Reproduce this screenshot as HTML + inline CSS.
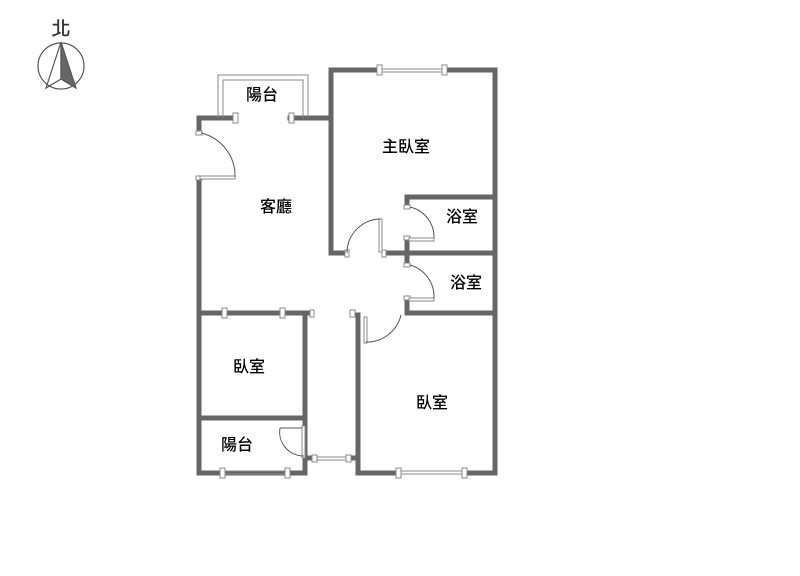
<!DOCTYPE html>
<html><head><meta charset="utf-8"><style>
html,body{margin:0;padding:0;background:#fff;width:800px;height:576px;overflow:hidden}
text{font-family:"Liberation Sans","Noto Sans CJK TC",sans-serif;font-size:16px;fill:#000;font-weight:500}
</style></head><body>
<svg width="800" height="576" viewBox="0 0 800 576" xmlns="http://www.w3.org/2000/svg">
<text x="61" y="35" text-anchor="middle" style="font-size:19px;fill:#333">北</text>
<circle cx="61" cy="66" r="23" fill="none" stroke="#555" stroke-width="1.2"/>
<polygon points="61,42 46,88 61,79" fill="none" stroke="#555" stroke-width="1.2"/>
<polygon points="61,42 76,88 61,79" fill="#666" stroke="#555" stroke-width="1.2"/>
<g stroke="#666" stroke-width="5" fill="none" stroke-linecap="square">
<path d="M199,131 V118 H233"/>
<path d="M199,180 V473 H305 V313 H310"/>
<path d="M290,118 H331 V70 H380"/>
<path d="M445,70 H495 V473 H465"/>
<path d="M398,473 H358 V315"/>
<path d="M199,313 H222"/><path d="M229,313 H280"/><path d="M286,313 H305"/>
<path d="M199,418 H305"/>
<path d="M331,70 V253 H345"/>
<path d="M386,253 H495"/>
<path d="M407,205 V197 H495"/>
<path d="M407,240 V263"/>
<path d="M407,300 V313 H495"/>
<path d="M305,458 H312"/><path d="M350,458 H357"/>
</g>
<g stroke="#888" stroke-width="1" fill="#fff">
<path d="M218,118 V75 H308 V118" fill="none" stroke-width="1"/>
<path d="M223,118 V80 H303 V118" fill="none"/>
<path d="M380,69 H445 M380,72 H445" fill="none"/>
<path d="M222,471 H289 M222,474 H289" fill="none"/>
<path d="M398,471 H465 M398,474 H465" fill="none"/>
<path d="M312,457 H350 M312,460 H350" fill="none"/>
<rect x="377" y="65" width="5" height="10"/><rect x="442" y="65" width="5" height="10"/>
<rect x="233" y="113" width="5" height="10"/><rect x="289" y="113" width="5" height="10"/>
<rect x="220" y="468" width="5" height="10"/><rect x="285" y="468" width="5" height="10"/>
<rect x="396" y="468" width="5" height="10"/><rect x="462" y="468" width="5" height="10"/>
<rect x="222" y="308" width="5" height="10"/><rect x="280" y="308" width="5" height="10"/>
<rect x="310" y="310" width="4" height="7"/><rect x="350" y="310" width="5" height="7"/>
<rect x="312" y="455" width="5" height="7"/><rect x="346" y="455" width="5" height="7"/>
<rect x="196" y="131" width="6" height="4"/><rect x="196" y="176" width="6" height="4"/>
<rect x="345" y="250" width="4" height="7"/><rect x="382" y="250" width="4" height="7"/>
<rect x="404" y="205" width="6" height="4"/><rect x="404" y="236" width="6" height="4"/>
<rect x="404" y="263" width="6" height="4"/><rect x="404" y="296" width="6" height="4"/>
<rect x="200" y="176" width="35" height="3"/>
<rect x="379" y="219" width="3" height="33"/>
<rect x="409" y="238" width="25" height="3"/>
<rect x="409" y="298" width="25" height="3"/>
<rect x="364" y="317" width="3" height="26"/>
<rect x="302" y="426" width="3" height="32"/>
</g>
<g stroke="#555" stroke-width="1" fill="none">
<path d="M201,133 A44,44 0 0 1 235,177"/>
<path d="M347,253 A34,34 0 0 1 381,219"/>
<path d="M410,207 A31,31 0 0 1 434,238"/>
<path d="M410,265 A33,33 0 0 1 434,298"/>
<path d="M366,342 A35,35 0 0 0 401,315"/>
<path d="M280,428 A24,24 0 0 0 304,456"/>
<path d="M280,428 H302"/>
</g>
<text x="262" y="100" text-anchor="middle">陽台</text>
<text x="406" y="152" text-anchor="middle">主臥室</text>
<text x="276" y="212" text-anchor="middle">客廳</text>
<text x="462" y="222" text-anchor="middle">浴室</text>
<text x="466" y="288" text-anchor="middle">浴室</text>
<text x="249" y="372" text-anchor="middle">臥室</text>
<text x="432" y="408" text-anchor="middle">臥室</text>
<text x="237" y="450" text-anchor="middle">陽台</text>
</svg>
</body></html>
